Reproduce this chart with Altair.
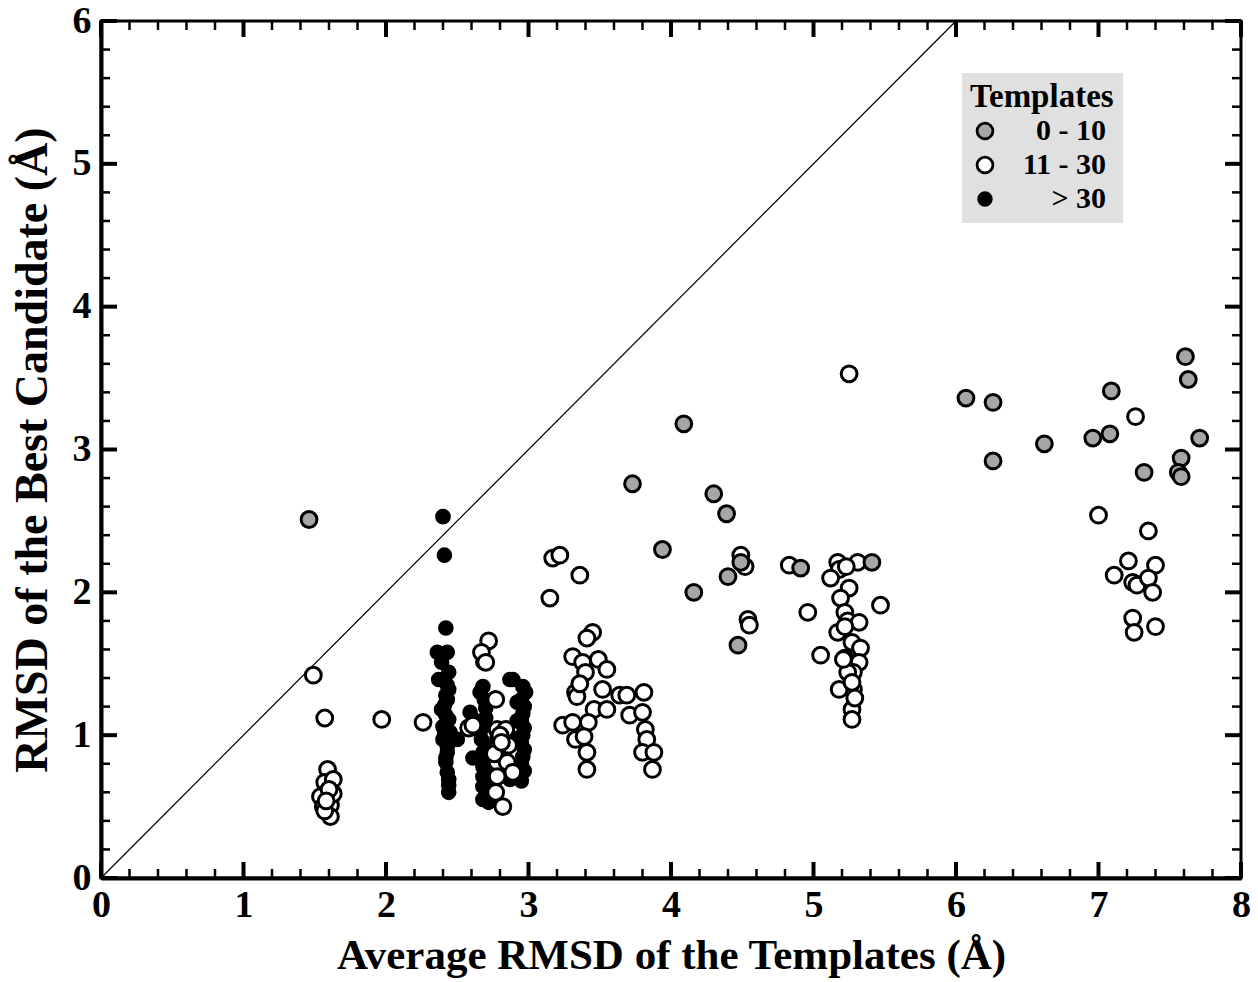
import altair as alt
import pandas as pd

# ---- data ----
gray_x = [1.46, 3.73, 4.09, 3.94, 4.16, 4.30, 4.39, 4.40, 4.49, 4.47, 4.91, 5.41,
          6.07, 6.26, 6.26, 6.62, 6.96, 7.08, 7.09, 7.32, 7.61, 7.63, 7.71, 7.58, 7.56, 7.58]
gray_y = [2.51, 2.76, 3.18, 2.30, 2.00, 2.69, 2.55, 2.11, 2.21, 1.63, 2.17, 2.21,
          3.36, 3.33, 2.92, 3.04, 3.08, 3.11, 3.41, 2.84, 3.65, 3.49, 3.08, 2.94, 2.84, 2.81]

white_x = [1.49, 1.57, 1.97, 2.26, 1.59, 1.57, 1.63, 1.54, 1.61, 1.56, 1.61, 1.63, 1.57, 1.60, 1.58,
           2.72, 2.67, 2.70, 2.77, 2.58, 2.61, 2.78, 2.84, 2.79, 2.86, 2.78, 2.78, 2.85, 2.89, 2.78,
           2.77, 2.82, 2.80, 2.76, 2.81,
           3.17, 3.22, 3.36, 3.15, 3.45, 3.41, 3.31, 3.38, 3.49, 3.40, 3.55, 3.33, 3.34, 3.52, 3.64,
           3.69, 3.81, 3.46, 3.55, 3.71, 3.80, 3.24, 3.31, 3.42, 3.33, 3.39, 3.82, 3.83, 3.41, 3.80,
           3.88, 3.41, 3.87, 3.36,
           4.49, 4.52, 4.54, 4.55, 4.83, 4.96, 5.05, 5.47, 5.25,
           5.17, 5.31, 5.18, 5.12, 5.25, 5.19, 5.22, 5.24, 5.32, 5.17, 5.27, 5.33, 5.22, 5.32, 5.28,
           5.28, 5.18, 5.27, 5.27, 5.24, 5.21, 5.27, 5.22, 5.29, 5.23,
           7.00, 7.35, 7.21, 7.40, 7.11, 7.24, 7.27, 7.35, 7.38, 7.24, 7.25, 7.40, 7.26]
white_y = [1.42, 1.12, 1.11, 1.09, 0.76, 0.67, 0.69, 0.57, 0.51, 0.50, 0.43, 0.59, 0.47, 0.62, 0.54,
           1.66, 1.58, 1.51, 1.25, 1.05, 1.07, 1.04, 1.04, 0.98, 0.93, 0.91, 0.81, 0.81, 0.74, 0.71,
           0.60, 0.50, 1.00, 0.87, 0.95,
           2.24, 2.26, 2.12, 1.96, 1.72, 1.68, 1.55, 1.51, 1.53, 1.44, 1.46, 1.30, 1.27, 1.32, 1.28,
           1.28, 1.30, 1.18, 1.18, 1.14, 1.16, 1.07, 1.09, 1.09, 0.97, 0.99, 1.04, 0.97, 0.88, 0.88,
           0.88, 0.76, 0.76, 1.36,
           2.26, 2.18, 1.81, 1.77, 2.19, 1.86, 1.56, 1.91, 3.53,
           2.21, 2.21, 2.16, 2.10, 2.03, 1.96, 1.86, 1.80, 1.79, 1.72, 1.65, 1.61, 1.54, 1.51, 1.44,
           1.32, 1.32, 1.18, 1.11, 1.44, 1.53, 1.37, 1.76, 1.26, 2.18,
           2.54, 2.43, 2.22, 2.19, 2.12, 2.07, 2.05, 2.10, 2.00, 1.82, 1.72, 1.76, 3.23]

black_x = [2.40, 2.41, 2.42, 2.36, 2.43, 2.39, 2.44, 2.37, 2.44, 2.42, 2.43, 2.39, 2.42, 2.44, 2.40,
           2.45, 2.50, 2.40, 2.43, 2.43, 2.42, 2.43, 2.44, 2.44, 2.44, 2.41, 2.43, 2.42, 2.41,
           2.68, 2.87, 2.68, 2.66, 2.59, 2.70, 2.68, 2.67, 2.61, 2.68, 2.68, 2.68, 2.68, 2.68, 2.72,
           2.70, 2.66, 2.71, 2.69, 2.70, 2.71, 2.69, 2.72, 2.63,
           2.96, 2.98, 2.92, 2.95, 2.97, 2.96, 2.95, 2.97, 2.96, 2.95, 2.97, 2.96, 2.95, 2.97, 2.95,
           2.87, 2.89, 2.93, 2.92]
black_y = [2.53, 2.26, 1.75, 1.58, 1.58, 1.51, 1.44, 1.39, 1.32, 1.28, 1.25, 1.18, 1.14, 1.11, 1.06,
           1.02, 0.97, 0.97, 0.92, 0.88, 0.81, 0.74, 0.69, 0.65, 0.60, 1.21, 1.35, 0.84, 1.00,
           1.51, 1.39, 1.34, 1.30, 1.16, 1.19, 1.06, 0.97, 0.84, 0.88, 0.78, 0.71, 0.64, 0.55, 0.53,
           1.12, 1.02, 0.92, 0.82, 0.75, 0.68, 1.25, 0.60, 1.10,
           1.34, 1.30, 1.23, 1.25, 1.20, 1.15, 1.10, 1.05, 1.00, 0.95, 0.90, 0.85, 0.80, 0.75, 0.68,
           0.69, 1.39, 0.98, 1.10]

groups = ["0 - 10", "11 - 30", "> 30"]
group_fill = ["#a6a6a6", "#ffffff", "#000000"]
group_size = [250, 250, 160]

diag_x = [0, 6]
diag_y = [0, 6]

x_major = list(range(0, 9))
x_minor = [i / 5 for i in range(0, 41) if i % 5 != 0]
y_major = list(range(0, 7))
y_minor = [i / 5 for i in range(0, 31) if i % 5 != 0]

W, H = 1140, 857
FONT = "Liberation Serif"

rows = []
for z, (gx, gy, g) in enumerate([(black_x, black_y, groups[2]),
                                   (white_x, white_y, groups[1]),
                                   (gray_x, gray_y, groups[0])]):
    for a, b in zip(gx, gy):
        rows.append({"x": a, "y": b, "g": g, "z": z})
pts = pd.DataFrame(rows)

xs = alt.Scale(domain=[0, 8], nice=False, zero=False)
ys = alt.Scale(domain=[0, 6], nice=False, zero=False)

points = alt.Chart(pts).mark_point(filled=True, strokeWidth=3, opacity=1, shape="circle").encode(
    x=alt.X("x:Q", scale=xs,
            axis=alt.Axis(values=x_major, format="d", title="Average RMSD of the Templates (Å)",
                          titleFontSize=43, labelFontSize=38, labelPadding=8, titlePadding=10)),
    y=alt.Y("y:Q", scale=ys,
            axis=alt.Axis(values=y_major, format="d", title="RMSD of the Best Candidate (Å)",
                          titleFontSize=46, labelFontSize=38, labelPadding=10, titlePadding=16)),
    fill=alt.Fill("g:O", scale=alt.Scale(domain=groups, range=group_fill),
                  legend=alt.Legend(title="Templates")),
    stroke=alt.Stroke("g:O", scale=alt.Scale(domain=groups, range=["black", "black", "black"]),
                      legend=alt.Legend(title="Templates")),
    size=alt.Size("g:O", scale=alt.Scale(type="ordinal", domain=groups, range=group_size),
                  legend=alt.Legend(title="Templates")),
    order=alt.Order("z:Q"),
)

diag = alt.Chart(pd.DataFrame({"x": diag_x, "y": diag_y})).mark_line(
    color="black", strokeWidth=1.2).encode(x=alt.X("x:Q", scale=xs), y=alt.Y("y:Q", scale=ys))


def xticks(vals, length, width):
    d = pd.DataFrame({"v": vals})
    bottom = alt.Chart(d).mark_rule(color="black", strokeWidth=width).encode(
        x=alt.X("v:Q", scale=xs), y=alt.value(H), y2=alt.value(H - length))
    top = alt.Chart(d).mark_rule(color="black", strokeWidth=width).encode(
        x=alt.X("v:Q", scale=xs), y=alt.value(0), y2=alt.value(length))
    return bottom + top


def yticks(vals, length, width):
    d = pd.DataFrame({"v": vals})
    left = alt.Chart(d).mark_rule(color="black", strokeWidth=width).encode(
        y=alt.Y("v:Q", scale=ys), x=alt.value(0), x2=alt.value(length))
    right = alt.Chart(d).mark_rule(color="black", strokeWidth=width).encode(
        y=alt.Y("v:Q", scale=ys), x=alt.value(W), x2=alt.value(W - length))
    return left + right


ticks = xticks(x_major, 16, 4) + xticks(x_minor, 9, 2.5) + yticks(y_major, 16, 4) + yticks(y_minor, 9, 2.5)

chart = alt.layer(ticks, diag, points).properties(
    width=W, height=H,
    autosize=alt.AutoSizeParams(type="none"),
    padding={"left": 101, "top": 21, "right": 17, "bottom": 104},
    background="white",
).configure_view(
    stroke="black", strokeWidth=3,
).configure_axis(
    grid=False, ticks=False, domain=True, domainColor="black", domainWidth=4,
    labelFont=FONT, labelFontWeight="bold", labelColor="black",
    titleFont=FONT, titleFontWeight="bold", titleColor="black",
    labelFlush=False,
).configure_legend(
    orient="none", legendX=861, legendY=52, fillColor="#e0e0e0", padding=8,
    titleFont=FONT, titleFontWeight="bold", titleFontSize=33, titleColor="black",
    labelFont=FONT, labelFontWeight="bold", labelFontSize=30, labelColor="black",
    labelAlign="right", labelOffset=106, symbolStrokeWidth=2.8, rowPadding=4,
    strokeColor="#e0e0e0", titlePadding=2,
)

chart.save("out.html", embed_options={"renderer": "svg", "actions": False})
